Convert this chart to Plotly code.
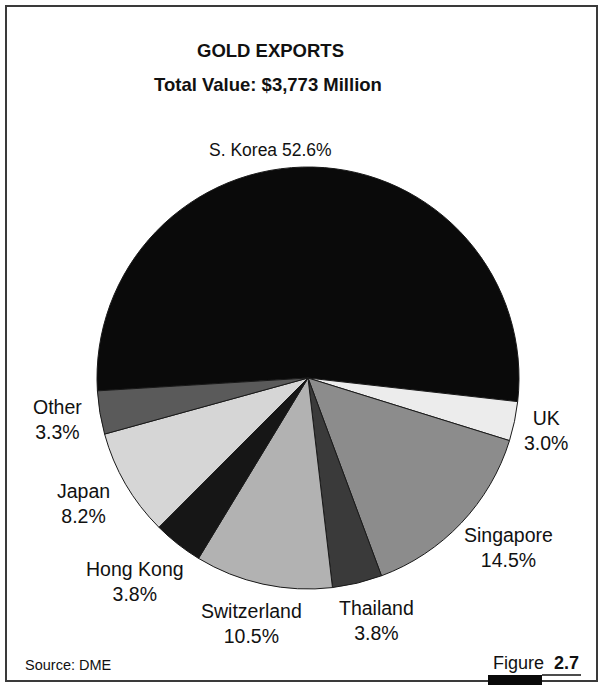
import plotly.graph_objects as go

# Gold exports by destination (% of total value)
countries = ["S. Korea", "UK", "Singapore", "Thailand", "Switzerland",
             "Hong Kong", "Japan", "Other"]
shares = [52.6, 3.0, 14.5, 3.8, 10.5, 3.8, 8.2, 3.3]
slice_colors = ["#0a0a0a", "#ececec", "#8c8c8c", "#3a3a3a", "#b2b2b2",
                "#161616", "#d6d6d6", "#5a5a5a"]

title_line1 = "GOLD EXPORTS"
title_line2 = "Total Value: $3,773 Million"
source_note = "Source: DME"
figure_no = "2.7"

W, H = 599, 685


def px(x):
    return x / W


def py(y):
    return 1 - y / H


fig = go.Figure(go.Pie(
    labels=countries,
    values=shares,
    sort=False,
    direction="clockwise",
    rotation=266.5,
    textinfo="none",
    hoverinfo="label+value",
    marker=dict(colors=slice_colors, line=dict(color="#1a1a1a", width=1)),
    domain=dict(x=[px(97), px(519)], y=[py(589), py(167)]),
    showlegend=False,
))

# slice labels placed around the pie (name line and value line)
label_pos = {
    "S. Korea": (270, 150),
    "UK": (546, 430),
    "Singapore": (508, 547),
    "Thailand": (376, 620),
    "Switzerland": (251, 623),
    "Hong Kong": (135, 581),
    "Japan": (83, 504),
    "Other": (57, 419),
}
label_font = dict(family="Liberation Sans, Arial, sans-serif", size=19.5, color="#111")
annotations = []
for name, val in zip(countries, shares):
    x, y = label_pos[name]
    sep = " " if name == "S. Korea" else "<br>"
    annotations.append(dict(
        x=px(x), y=py(y), xref="paper", yref="paper",
        text=f"{name}{sep}{val:.1f}%", showarrow=False,
        xanchor="center", yanchor="middle", align="center",
        font=label_font if name != "S. Korea" else dict(label_font, size=17.5),
    ))

title_font = dict(family="Liberation Sans, Arial, sans-serif",
                  size=18.5, color="#111", weight="bold")
annotations += [
    dict(x=px(270), y=py(51), xref="paper", yref="paper", text=f"<b>{title_line1}</b>",
         showarrow=False, xanchor="center", yanchor="middle", font=title_font),
    dict(x=px(268), y=py(85), xref="paper", yref="paper", text=f"<b>{title_line2}</b>",
         showarrow=False, xanchor="center", yanchor="middle", font=title_font),
    dict(x=px(23), y=py(665), xref="paper", yref="paper", text=source_note,
         showarrow=False, xanchor="left", yanchor="middle",
         font=dict(family="Liberation Sans, Arial, sans-serif", size=14.5, color="#111")),
    dict(x=px(581), y=py(663), xref="paper", yref="paper",
         text=f"Figure  <b>{figure_no}</b>", showarrow=False,
         xanchor="right", yanchor="middle",
         font=dict(family="Liberation Sans, Arial, sans-serif", size=18, color="#111")),
]

shapes = [
    # outer frame
    dict(type="rect", xref="paper", yref="paper",
         x0=px(6), x1=px(597), y0=py(681), y1=py(6),
         line=dict(color="#3a3a3a", width=2), fillcolor="rgba(0,0,0,0)"),
    # figure number underline and tab
    dict(type="line", xref="paper", yref="paper",
         x0=px(542), x1=px(581), y0=py(675), y1=py(675),
         line=dict(color="#111", width=1.5)),
    dict(type="rect", xref="paper", yref="paper",
         x0=px(488), x1=px(542), y0=py(685), y1=py(675),
         line=dict(width=0), fillcolor="#0a0a0a"),
]

fig.update_layout(
    width=W, height=H,
    margin=dict(l=0, r=0, t=0, b=0),
    paper_bgcolor="white",
    plot_bgcolor="white",
    annotations=annotations,
    shapes=shapes,
)

fig.write_html("out.html")
